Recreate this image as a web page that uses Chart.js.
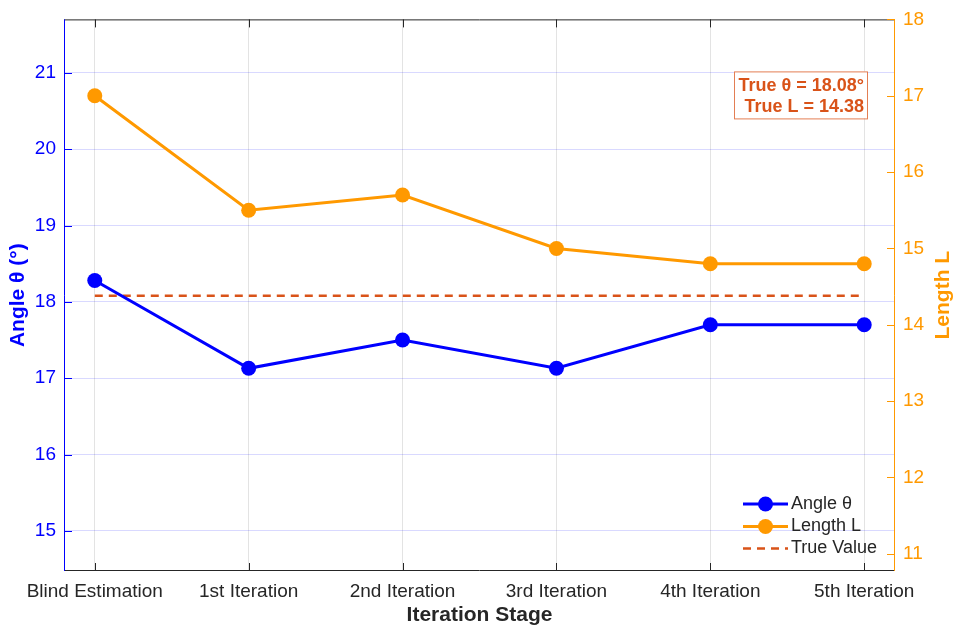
<!DOCTYPE html>
<html>
<head>
<meta charset="utf-8">
<script src="https://cdn.jsdelivr.net/npm/chart.js@4.4.1/dist/chart.umd.min.js"></script>
<style>
html,body{margin:0;padding:0;background:#fff;overflow:hidden}
#wrap{width:966px;height:634px;position:relative}
</style>
</head>
<body>
<div id="wrap"><canvas id="c"></canvas></div>
<script>
// ---- data ----
const categories = ['Blind Estimation', '1st Iteration', '2nd Iteration', '3rd Iteration', '4th Iteration', '5th Iteration'];
const angleValues = [18.28, 17.13, 17.50, 17.13, 17.70, 17.70];
const lengthValues = [17.0, 15.5, 15.7, 15.0, 14.8, 14.8];
const trueAngle = 18.08;
const trueLength = 14.38;
const angleTicks = [15, 16, 17, 18, 19, 20, 21];
const lengthTicks = [11, 12, 13, 14, 15, 16, 17, 18];
const angleRange = [14.475, 21.70];
const lengthRange = [10.775, 18.0];
const xRange = [-0.2, 5.2];
const seriesLabels = ['Angle θ', 'Length L', 'True Value'];

// ---- styles ----
const BLUE = '#0000FF';
const ORANGE = '#FF9900';
const RED = '#D95319';
const DARK = '#262626';
const FONT = "'Liberation Sans', Arial, Helvetica, sans-serif";
Chart.defaults.font.family = FONT;

const toXY = arr => arr.map((v, i) => ({x: i, y: v}));

const framePlugin = {
  id: 'frame',
  afterDatasetsDraw(chart) {
    const {ctx, chartArea: a, scales} = chart;
    const TL = 8;
    ctx.save();
    ctx.lineWidth = 1;
    ctx.strokeStyle = DARK;
    ctx.beginPath();
    ctx.moveTo(a.left, a.top + 0.5); ctx.lineTo(a.right, a.top + 0.5);
    ctx.moveTo(a.left, a.bottom - 0.5); ctx.lineTo(a.right, a.bottom - 0.5);
    scales.x.ticks.forEach(t => {
      const px = Math.round(scales.x.getPixelForValue(t.value)) + 0.5;
      ctx.moveTo(px, a.bottom); ctx.lineTo(px, a.bottom - TL);
      ctx.moveTo(px, a.top); ctx.lineTo(px, a.top + TL);
    });
    ctx.stroke();
    ctx.strokeStyle = BLUE;
    ctx.beginPath();
    ctx.moveTo(a.left + 0.5, a.top); ctx.lineTo(a.left + 0.5, a.bottom);
    scales.y.ticks.forEach(t => {
      const py = Math.round(scales.y.getPixelForValue(t.value)) + 0.5;
      ctx.moveTo(a.left, py); ctx.lineTo(a.left + TL, py);
    });
    ctx.stroke();
    ctx.strokeStyle = ORANGE;
    ctx.beginPath();
    ctx.moveTo(a.right - 0.5, a.top); ctx.lineTo(a.right - 0.5, a.bottom);
    scales.y1.ticks.forEach(t => {
      const py = Math.round(scales.y1.getPixelForValue(t.value)) + 0.5;
      ctx.moveTo(a.right, py); ctx.lineTo(a.right - TL, py);
    });
    ctx.stroke();
    ctx.restore();
  },
  afterDraw(chart) {
    const {ctx, chartArea: a} = chart;
    ctx.save();
    ctx.translate(943, (a.top + a.bottom) / 2);
    ctx.rotate(-Math.PI / 2);
    ctx.fillStyle = ORANGE;
    ctx.font = "bold 21px " + FONT;
    ctx.textAlign = 'center';
    ctx.textBaseline = 'middle';
    ctx.fillText('Length L', 0, 0);
    ctx.restore();

    ctx.save();
    const bx = a.right - 161, by = a.top + 52, bw = 133, bh = 47;
    ctx.fillStyle = '#fff';
    ctx.fillRect(bx, by, bw, bh);
    ctx.strokeStyle = 'rgba(217,83,25,0.75)';
    ctx.lineWidth = 1;
    ctx.strokeRect(bx + 0.5, by + 0.5, bw, bh);
    ctx.fillStyle = RED;
    ctx.font = "bold 18px " + FONT;
    ctx.textAlign = 'right';
    ctx.textBaseline = 'middle';
    ctx.fillText('True θ = ' + trueAngle.toFixed(2) + '°', bx + bw - 3, by + 15);
    ctx.fillText('True L = ' + trueLength.toFixed(2), bx + bw - 3, by + 36);
    ctx.restore();

    ctx.save();
    const lx0 = a.right - 152, lx1 = a.right - 107, tx = a.right - 104;
    const rows = [a.bottom - 67, a.bottom - 44.5, a.bottom - 22.5];
    const ds = chart.data.datasets;
    ctx.font = "18px " + FONT;
    ctx.textAlign = 'left';
    ctx.textBaseline = 'middle';
    rows.forEach((ry, i) => {
      const d = ds[i];
      ctx.strokeStyle = d.borderColor;
      ctx.lineWidth = d.borderWidth;
      ctx.setLineDash(d.borderDash || []);
      ctx.beginPath();
      ctx.moveTo(lx0, ry); ctx.lineTo(lx1, ry);
      ctx.stroke();
      ctx.setLineDash([]);
      if (d.pointRadius > 0) {
        ctx.fillStyle = d.borderColor;
        ctx.beginPath();
        ctx.arc((lx0 + lx1) / 2, ry, d.pointRadius, 0, Math.PI * 2);
        ctx.fill();
      }
      ctx.fillStyle = DARK;
      ctx.fillText(seriesLabels[i], tx, ry);
    });
    ctx.restore();
  }
};

new Chart(document.getElementById('c'), {
  type: 'line',
  data: {
    datasets: [
      {
        label: seriesLabels[0], data: toXY(angleValues), yAxisID: 'y',
        borderColor: BLUE, backgroundColor: BLUE, borderWidth: 3,
        pointRadius: 7.5, pointBackgroundColor: BLUE, pointBorderWidth: 0, tension: 0
      },
      {
        label: seriesLabels[1], data: toXY(lengthValues), yAxisID: 'y1',
        borderColor: ORANGE, backgroundColor: ORANGE, borderWidth: 3,
        pointRadius: 7.5, pointBackgroundColor: ORANGE, pointBorderWidth: 0, tension: 0
      },
      {
        label: seriesLabels[2],
        data: [{x: 0, y: trueAngle}, {x: categories.length - 1, y: trueAngle}],
        yAxisID: 'y',
        borderColor: RED, borderWidth: 2.5, borderDash: [8, 6],
        pointRadius: 0, tension: 0
      }
    ]
  },
  options: {
    responsive: true,
    maintainAspectRatio: false,
    animation: false,
    layout: {padding: {top: 19, left: 0, right: 0, bottom: 0}},
    plugins: {legend: {display: false}, tooltip: {enabled: false}},
    scales: {
      x: {
        type: 'linear', min: xRange[0], max: xRange[1],
        afterBuildTicks: s => { s.ticks = categories.map((c, i) => ({value: i})); },
        afterFit: s => { s.height = 63; },
        ticks: {
          callback: v => categories[v] ?? '', color: DARK, autoSkip: false,
          maxRotation: 0, minRotation: 0, padding: 9, font: {size: 19}
        },
        grid: {color: 'rgba(38,38,38,0.13)', drawTicks: false, lineWidth: 1},
        border: {display: false},
        title: {display: true, text: 'Iteration Stage', color: DARK,
          font: {size: 21, weight: 'bold'}, padding: {top: 0, bottom: 6}}
      },
      y: {
        type: 'linear', position: 'left', min: angleRange[0], max: angleRange[1],
        afterBuildTicks: s => { s.ticks = angleTicks.map(v => ({value: v})); },
        afterFit: s => { s.width = 64; },
        ticks: {callback: v => String(v), color: BLUE, padding: 8, font: {size: 19}},
        grid: {color: 'rgba(0,0,255,0.15)', drawTicks: false, lineWidth: 1},
        border: {display: false},
        title: {display: true, text: 'Angle θ (°)', color: BLUE,
          font: {size: 21, weight: 'bold'}, padding: {top: 6, bottom: 0}}
      },
      y1: {
        type: 'linear', position: 'right', min: lengthRange[0], max: lengthRange[1],
        afterBuildTicks: s => { s.ticks = lengthTicks.map(v => ({value: v})); },
        afterFit: s => { s.width = 71; },
        ticks: {callback: v => String(v), color: ORANGE, padding: 8, font: {size: 19}},
        grid: {display: false, drawTicks: false},
        border: {display: false}
      }
    }
  },
  plugins: [framePlugin]
});
</script>
</body>
</html>
